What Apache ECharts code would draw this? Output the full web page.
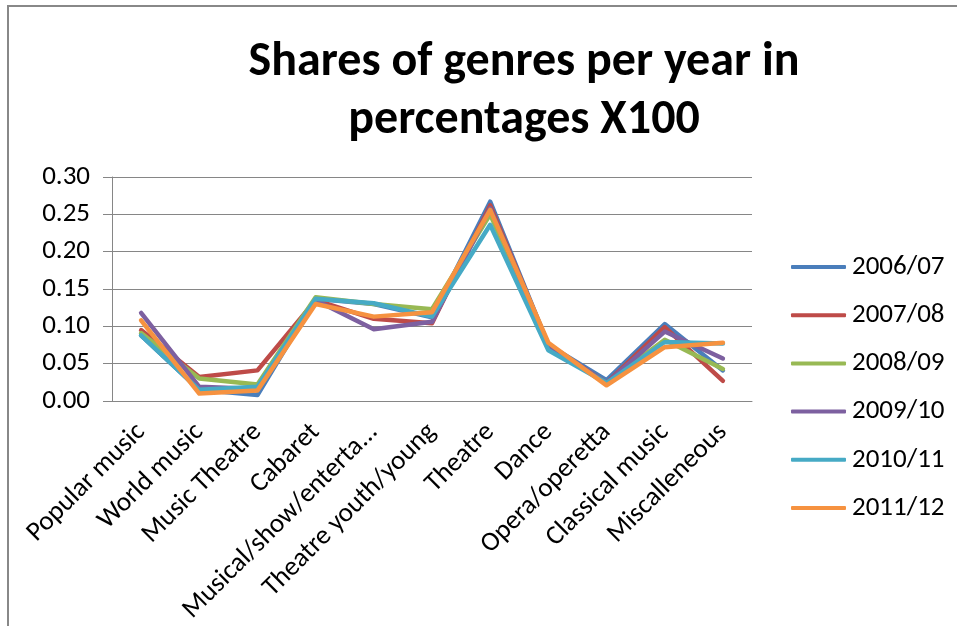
<!DOCTYPE html>
<html>
<head>
<meta charset="utf-8">
<script src="https://cdn.jsdelivr.net/npm/echarts@6/dist/echarts.min.js"></script>
<style>
  html, body { margin: 0; padding: 0; background: #fff; }
  #chart { width: 957px; height: 626px; }
</style>
</head>
<body>
<div id="chart"></div>
<script>
// genres on the x axis
const categories = ['Popular music', 'World music', 'Music Theatre', 'Cabaret', 'Musical/show/enterta...',
  'Theatre youth/young', 'Theatre', 'Dance', 'Opera/operetta', 'Classical music', 'Miscalleneous']

// shares per season
const s2006 = [0.088, 0.015, 0.008, 0.137, 0.130, 0.112, 0.267, 0.075, 0.028, 0.103, 0.041]
const s2007 = [0.095, 0.032, 0.041, 0.135, 0.110, 0.104, 0.262, 0.075, 0.024, 0.099, 0.027]
const s2008 = [0.091, 0.030, 0.022, 0.139, 0.130, 0.123, 0.250, 0.073, 0.024, 0.082, 0.043]
const s2009 = [0.118, 0.019, 0.016, 0.135, 0.096, 0.106, 0.258, 0.075, 0.024, 0.093, 0.057]
const s2010 = [0.088, 0.015, 0.019, 0.137, 0.131, 0.113, 0.236, 0.068, 0.024, 0.079, 0.077]
const s2011 = [0.108, 0.010, 0.014, 0.130, 0.113, 0.119, 0.256, 0.078, 0.021, 0.072, 0.078]

const seasons = ['2006/07', '2007/08', '2008/09', '2009/10', '2010/11', '2011/12']
const values = [s2006, s2007, s2008, s2009, s2010, s2011]
const colors = ['#4A7EBB', '#BE4B48', '#98B954', '#7D60A0', '#46AAC5', '#F69240']

const font = 'Carlito, Lato, sans-serif'
const gray = '#868686'

const chart = echarts.init(document.getElementById('chart'))
chart.setOption({
  animation: false,
  color: colors,
  textStyle: { fontFamily: font },
  title: {
    text: 'Shares of genres per year in\npercentages X100',
    left: 519,
    top: 29,
    textAlign: 'center',
    textStyle: {
      fontFamily: font,
      fontSize: 48,
      fontWeight: 'bold',
      lineHeight: 58,
      color: '#000'
    }
  },
  graphic: [{
    type: 'rect',
    shape: { x: 8, y: 6, width: 1000, height: 700 },
    style: { fill: 'none', stroke: '#888', lineWidth: 2 }
  }],
  legend: {
    orient: 'vertical',
    left: 791,
    top: 252,
    padding: 0,
    icon: 'roundRect',
    itemWidth: 55,
    itemHeight: 4,
    itemGap: 18.2,
    textStyle: { fontSize: 27, lineHeight: 30, color: '#000', fontFamily: font, padding: [0, 0, 0, 1] },
    data: seasons
  },
  grid: { left: 112, top: 177, width: 640, height: 224 },
  xAxis: {
    type: 'category',
    data: categories,
    boundaryGap: true,
    axisLine: { lineStyle: { color: gray } },
    axisTick: { length: 6, lineStyle: { color: gray } },
    axisLabel: { interval: 0, rotate: 45, margin: 27, fontSize: 27, color: '#000', fontFamily: font }
  },
  yAxis: {
    type: 'value',
    min: 0,
    max: 0.3,
    interval: 0.05,
    axisLine: { show: true, lineStyle: { color: gray } },
    axisTick: { show: true, length: 9, lineStyle: { color: gray } },
    splitLine: { lineStyle: { color: gray } },
    axisLabel: { margin: 22, fontSize: 27, color: '#000', fontFamily: font,
      formatter: v => v.toFixed(2) }
  },
  series: seasons.map((name, i) => ({
    name: name,
    type: 'line',
    data: values[i],
    symbol: 'none',
    lineStyle: { width: 4.5, cap: 'round', join: 'round' }
  }))
})
</script>
</body>
</html>
